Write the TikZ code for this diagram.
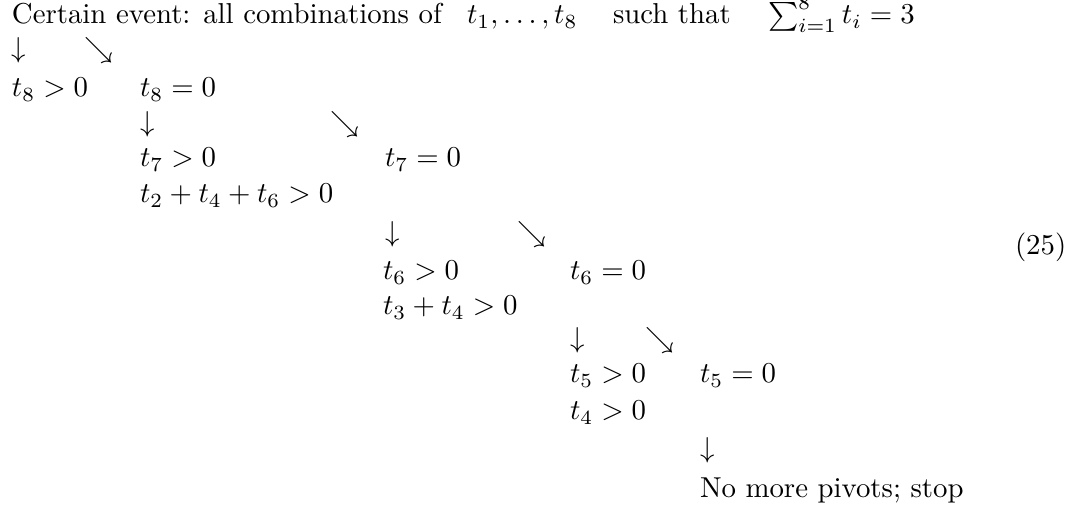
\documentclass[tikz,border=0pt]{standalone}
\begin{document}
\begin{tikzpicture}[x=0.34722pt,y=-0.34722pt,
  txt/.style={anchor=base west,inner sep=0pt,outer sep=0pt},
  arr/.style={anchor=base west,inner sep=0pt,outer sep=0pt}]
\useasboundingbox (0,0) rectangle (1081,506);
% header
\node[txt] (h1) at (12,24) {Certain event: all combinations of};
\node[txt] (h2) at (467,24) {$t_1,\ldots,t_8$};
\node[txt] (h3) at (613,24) {such that};
\node[txt] (h4) at (768,24) {$\sum_{i=1}^8 t_i=3$};
% level 1
\node[arr] (d1) at (12,58) {$\downarrow$};
\node[arr] (s1) at (85,58) {$\searrow$};
\node[txt] (p8) at (12,97) {$t_8>0$};
\node[txt] (z8) at (140,97) {$t_8=0$};
% level 2
\node[arr] (d2) at (140,132) {$\downarrow$};
\node[arr] (s2) at (330,132) {$\searrow$};
\node[txt] (p7) at (140,167) {$t_7>0$};
\node[txt] (z7) at (385,167) {$t_7=0$};
\node[txt] (c7) at (140,203) {$t_2+t_4+t_6>0$};
% level 3
\node[arr] (d3) at (385,242) {$\downarrow$};
\node[arr] (s3) at (517,242) {$\searrow$};
\node[txt] (p6) at (383,280) {$t_6>0$};
\node[txt] (z6) at (570,280) {$t_6=0$};
\node[txt] (c6) at (383,315) {$t_3+t_4>0$};
% level 4
\node[arr] (d4) at (570,348) {$\downarrow$};
\node[arr] (s4) at (645,348) {$\searrow$};
\node[txt] (p5) at (570,383) {$t_5>0$};
\node[txt] (z5) at (700,383) {$t_5=0$};
\node[txt] (c5) at (570,420) {$t_4>0$};
% stop
\node[arr] (d5) at (700,458) {$\downarrow$};
\node[txt] (stop) at (700,498) {No more pivots; stop};
% tag
\node[txt] (tag) at (1015,255) {(25)};
\end{tikzpicture}
\end{document}
